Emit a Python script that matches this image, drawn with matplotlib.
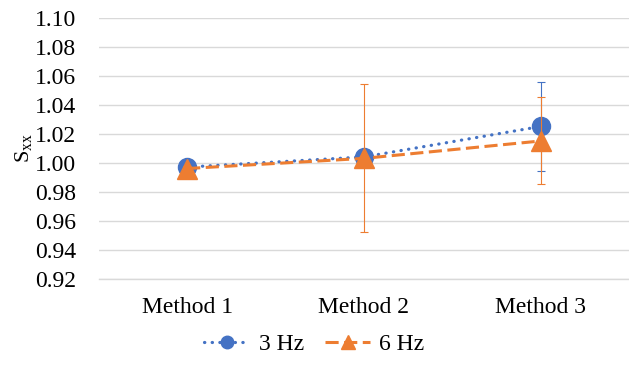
import numpy as np
import matplotlib.pyplot as plt
from matplotlib.lines import Line2D

plt.rcParams['font.family'] = ['Liberation Serif', 'DejaVu Serif']
plt.rcParams['mathtext.fontset'] = 'custom'
plt.rcParams['mathtext.rm'] = 'Liberation Serif'
plt.rcParams['mathtext.it'] = 'Liberation Serif'

methods = ["Method 1", "Method 2", "Method 3"]
s_3hz = [0.997, 1.004, 1.025]
err_3hz = [0.002, 0.003, 0.031]
s_6hz = [0.996, 1.003, 1.015]
err_6hz = [0.002, 0.051, 0.030]
yticks = [0.92, 0.94, 0.96, 0.98, 1.00, 1.02, 1.04, 1.06, 1.08, 1.10]

blue = "#4472C4"
orange = "#ED7D31"
dots = (0, (0.1, 2.3))
dashes = (0, (4.3, 1.8))

fig = plt.figure(figsize=(6.29, 3.66), dpi=100)
ax = fig.add_axes([0.157, 0.2385, 0.843, 0.713])

x = np.arange(len(methods))

ax.errorbar(x, s_3hz, yerr=err_3hz, color=blue, ecolor=blue, elinewidth=0.8,
            capsize=3.1, capthick=0.8, linestyle=dots, linewidth=2.3,
            dash_capstyle='round', marker='o', markersize=13, zorder=3)
ax.errorbar(x, s_6hz, yerr=err_6hz, color=orange, ecolor=orange, elinewidth=0.8,
            capsize=3.1, capthick=0.8, linestyle=dashes, linewidth=2.2,
            marker='^', markersize=14, zorder=4)

ax.set_xlim(-0.5, 2.5)
ax.set_ylim(0.92, 1.10)
ax.set_yticks(yticks)
ax.set_yticklabels([f"{v:.2f}" for v in yticks])
ax.set_xticks(x)
ax.set_xticklabels(methods)
ax.tick_params(axis='both', length=0, labelsize=17)
ax.tick_params(axis='y', pad=16)
ax.tick_params(axis='x', pad=13)
ax.grid(axis='y', color="#D9D9D9", linewidth=1)
ax.set_axisbelow(True)
for s in ax.spines.values():
    s.set_visible(False)
ax.spines['bottom'].set_visible(True)
ax.spines['bottom'].set_color("#D9D9D9")
ax.spines['bottom'].set_linewidth(1)

ax.set_ylabel(r"$\mathrm{S_{xx}}$", fontsize=16)
ax.yaxis.set_label_coords(-0.122, 0.5)

handles = [
    Line2D([], [], color=blue, linestyle=dots, linewidth=2.3, dash_capstyle='round',
           marker='o', markersize=9),
    Line2D([], [], color=orange, linestyle=dashes, linewidth=2.2,
           marker='^', markersize=10),
]
fig.legend(handles, ["3 Hz", "6 Hz"], loc='center', bbox_to_anchor=(0.5, 0.06),
           ncol=2, frameon=False, fontsize=17, handlelength=1.9,
           handletextpad=0.4, columnspacing=0.9)

fig.savefig("out.png", dpi=100)
